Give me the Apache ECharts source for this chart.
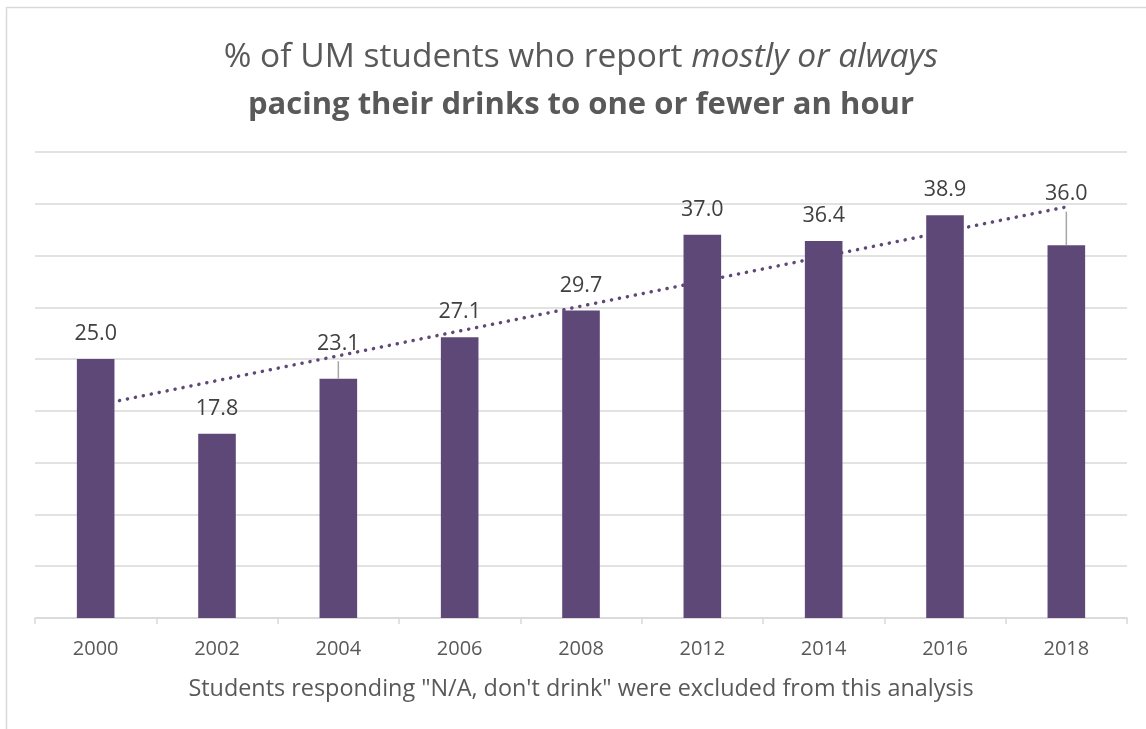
<!DOCTYPE html>
<html>
<head>
<meta charset="utf-8">
<script src="https://cdn.jsdelivr.net/npm/echarts@6/dist/echarts.min.js"></script>
<style>
html,body{margin:0;padding:0;background:#fff;overflow:hidden;}
#chart{width:1146px;height:729px;}
</style>
</head>
<body>
<div id="chart"></div>
<script>
// ---- data ----
const years = ['2000','2002','2004','2006','2008','2012','2014','2016','2018'];
const pctPacing = [25.0, 17.8, 23.1, 27.1, 29.7, 37.0, 36.4, 38.9, 36.0];
const titleLine1 = '% of UM students who report ';
const titleItalic = 'mostly or always';
const titleLine2 = 'pacing their drinks to one or fewer an hour';
const axisNote = 'Students responding "N/A, don\'t drink" were excluded from this analysis';

// linear trendline (least squares over category index), like Excel's
const n = pctPacing.length;
const xs = pctPacing.map((_, i) => i + 1);
const mx = xs.reduce((a, b) => a + b, 0) / n;
const my = pctPacing.reduce((a, b) => a + b, 0) / n;
let sxy = 0, sxx = 0;
for (let i = 0; i < n; i++) { sxy += (xs[i] - mx) * (pctPacing[i] - my); sxx += (xs[i] - mx) ** 2; }
const slope = sxy / sxx, icpt = my - slope * mx;
const trend = xs.map(x => +(icpt + slope * x).toFixed(3));

// labels that were dragged up in the original (pixel offset), drawn with leader lines
const movedLabels = {2: -10, 8: -26};
const leaderData = Object.keys(movedLabels).map(k => [+k, pctPacing[k], movedLabels[k]]);

const FONT = 'Open Sans';
const chart = echarts.init(document.getElementById('chart'), null, {renderer: 'canvas'});
chart.setOption({
  animation: false,
  textStyle: {fontFamily: FONT},
  graphic: [{
    type: 'rect', silent: true, z: 100,
    shape: {x: 6.5, y: 7.5, width: 1300, height: 900},
    style: {fill: 'none', stroke: '#d9d9d9', lineWidth: 1.5}
  }],
  title: {
    text: '{n|' + titleLine1 + '}{i|' + titleItalic + '}\n{b|' + titleLine2 + '}',
    left: 576, top: 28, textAlign: 'center',
    textStyle: {
      fontWeight: 'normal',
      rich: {
        n: {fontFamily: FONT, fontSize: 33.5, color: '#595959', fontWeight: 'normal', lineHeight: 48},
        i: {fontFamily: FONT, fontSize: 33.5, color: '#595959', fontWeight: 'normal', fontStyle: 'italic', lineHeight: 48},
        b: {fontFamily: FONT, fontSize: 31, color: '#595959', fontWeight: 'bold', lineHeight: 48}
      }
    }
  },
  grid: {left: 35, right: 19, top: 152, bottom: 111, containLabel: false},
  xAxis: {
    type: 'category', data: years,
    axisLine: {lineStyle: {color: '#d9d9d9', width: 1.5}},
    axisTick: {show: true, length: 6, lineStyle: {color: '#d9d9d9', width: 1.5}},
    axisLabel: {color: '#595959', fontSize: 20, margin: 21, fontFamily: FONT},
    name: axisNote, nameLocation: 'middle', nameGap: 60,
    nameTextStyle: {color: '#595959', fontSize: 23.4, fontFamily: FONT}
  },
  yAxis: {
    type: 'value', min: 0, max: 45, interval: 5,
    axisLabel: {show: false}, axisLine: {show: false}, axisTick: {show: false},
    splitLine: {lineStyle: {color: '#d9d9d9', width: 1.5}}
  },
  series: [
    {
      type: 'line', data: trend, z: 1, symbol: 'none', silent: true,
      lineStyle: {color: '#5E4878', width: 3.5, type: [0.1, 8], cap: 'round'}
    },
    {
      type: 'bar', data: pctPacing, z: 2, barWidth: '31%',
      itemStyle: {color: '#5E4878'},
      label: {
        show: true, position: 'top', distance: 14, color: '#404040', fontSize: 21.5, fontFamily: FONT,
        formatter: p => p.value.toFixed(1)
      },
      labelLayout: function (p) {
        if (p.dataIndex in movedLabels) return {dy: movedLabels[p.dataIndex]};
        return {};
      }
    },
    {
      type: 'custom', data: leaderData, z: 3, silent: true,
      encode: {x: 0, y: 1},
      renderItem: function (params, api) {
        const p = api.coord([api.value(0), api.value(1)]);
        const len = 7.6 - api.value(2);
        return {
          type: 'line',
          shape: {x1: p[0], y1: p[1], x2: p[0], y2: p[1] - len},
          style: {stroke: '#a6a6a6', lineWidth: 1.5}
        };
      }
    }
  ]
});
</script>
</body>
</html>
